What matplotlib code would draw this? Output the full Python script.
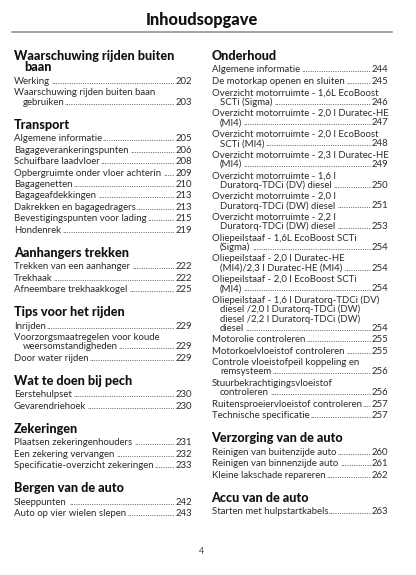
import matplotlib
matplotlib.use("Agg")
import matplotlib.pyplot as plt

plt.rcParams['font.family'] = ['Lato', 'DejaVu Sans']

title = "Inhoudsopgave"
page_no = "4"

# left column
left_headings = [["Waarschuwing rijden buiten", "baan"], ["Transport"], ["Aanhangers trekken"],
                 ["Tips voor het rijden"], ["Wat te doen bij pech"], ["Zekeringen"],
                 ["Bergen van de auto"]]
left_entries = [
    [["Werking"], ["Waarschuwing rijden buiten baan", "gebruiken"]],
    [["Algemene informatie"], ["Bagageverankeringspunten"], ["Schuifbare laadvloer"],
     ["Opbergruimte onder vloer achterin"], ["Bagagenetten"], ["Bagageafdekkingen"],
     ["Dakrekken en bagagedragers"], ["Bevestigingspunten voor lading"], ["Hondenrek"]],
    [["Trekken van een aanhanger"], ["Trekhaak"], ["Afneembare trekhaakkogel"]],
    [["Inrijden"], ["Voorzorgsmaatregelen voor koude", "weersomstandigheden"], ["Door water rijden"]],
    [["Eerstehulpset"], ["Gevarendriehoek"]],
    [["Plaatsen zekeringenhouders"], ["Een zekering vervangen"], ["Specificatie-overzicht zekeringen"]],
    [["Sleeppunten"], ["Auto op vier wielen slepen"]],
]
left_pages = [[202, 203], [205, 206, 208, 209, 210, 213, 213, 215, 219], [222, 222, 225],
              [229, 229, 229], [230, 230], [231, 232, 233], [242, 243]]

# right column
right_headings = [["Onderhoud"], ["Verzorging van de auto"], ["Accu van de auto"]]
right_entries = [
    [["Algemene informatie"], ["De motorkap openen en sluiten"],
     ["Overzicht motorruimte - 1,6L EcoBoost", "SCTi (Sigma)"],
     ["Overzicht motorruimte - 2,0 l Duratec-HE", "(MI4)"],
     ["Overzicht motorruimte - 2,0 l EcoBoost", "SCTi (MI4)"],
     ["Overzicht motorruimte - 2,3 l Duratec-HE", "(MI4)"],
     ["Overzicht motorruimte - 1,6 l", "Duratorq-TDCi (DV) diesel"],
     ["Overzicht motorruimte - 2,0 l", "Duratorq-TDCi (DW) diesel"],
     ["Overzicht motorruimte - 2,2 l", "Duratorq-TDCi (DW) diesel"],
     ["Oliepeilstaaf - 1,6L EcoBoost SCTi", "(Sigma)"],
     ["Oliepeilstaaf - 2,0 l Duratec-HE", "(MI4)/2,3 l Duratec-HE (MI4)"],
     ["Oliepeilstaaf - 2,0 l EcoBoost SCTi", "(MI4)"],
     ["Oliepeilstaaf - 1,6 l Duratorq-TDCi (DV)", "diesel /2,0 l Duratorq-TDCi (DW)",
      "diesel /2,2 l Duratorq-TDCi (DW)", "diesel"],
     ["Motorolie controleren"], ["Motorkoelvloeistof controleren"],
     ["Controle vloeistofpeil koppeling en", "remsysteem"],
     ["Stuurbekrachtigingsvloeistof", "controleren"],
     ["Ruitensproeiervloeistof controleren"], ["Technische specificatie"]],
    [["Reinigen van buitenzijde auto"], ["Reinigen van binnenzijde auto"], ["Kleine lakschade repareren"]],
    [["Starten met hulpstartkabels"]],
]
right_pages = [[244, 245, 246, 247, 248, 249, 250, 251, 253, 254, 254, 254, 254, 255, 255, 256, 256, 257, 257],
               [260, 261, 262], [263]]

W, H = 416, 575
fig = plt.figure(figsize=(W / 100, H / 100), dpi=100)
ax = fig.add_axes([0, 0, 1, 1])
ax.set_xlim(0, W)
ax.set_ylim(H, 0)
ax.axis('off')
renderer = fig.canvas.get_renderer()

body_size = 6.9
head_size = 9.1
body_col = '#2b2b2b'

ax.text(201.5, 20, title, ha='center', va='center', fontsize=11.8, fontweight=900, color='#111111')
ax.plot([12, 392], [32, 32], color='#8a8a8a', lw=1.1)
ax.text(201.5, 551.5, page_no, ha='center', va='center', fontsize=6.5, color='#555555')

dot = ax.text(0, 0, ".", fontsize=body_size)
dot_w = dot.get_window_extent(renderer).width
dot.remove()

step = 11.45
wrap = 9.3


def draw_column(x0, x_right, y, headings, entries, pages):
    for hi, head in enumerate(headings):
        for li, line in enumerate(head):
            ax.text(x0 + (10 if li else 0), y, line, ha='left', va='center', fontsize=head_size,
                    fontweight=900, color='#111111')
            if li < len(head) - 1:
                y += 10.9
        y += 14.0
        for ei, (lines, pg) in enumerate(zip(entries[hi], pages[hi])):
            for li, line in enumerate(lines):
                t = ax.text(x0 + (8.5 if li else 0), y, line, ha='left', va='center',
                            fontsize=body_size, color=body_col)
                if li < len(lines) - 1:
                    y += wrap
            n = ax.text(x_right, y, str(pg), ha='right', va='center', fontsize=body_size, color=body_col)
            x_end = t.get_window_extent(renderer).x1
            x_num = n.get_window_extent(renderer).x0
            ndots = int((x_num - x_end - 1) / dot_w)
            ax.text(x_num - 0.5, y, "." * max(ndots, 0), ha='right', va='center',
                    fontsize=body_size, color=body_col)
            if ei < len(entries[hi]) - 1:
                y += step
        y += 22.5
    return y


draw_column(14, 192, 56.5, left_headings, left_entries, left_pages)
draw_column(211.5, 388.5, 56, right_headings, right_entries, right_pages)

fig.savefig("out.png", dpi=100, facecolor='white')
